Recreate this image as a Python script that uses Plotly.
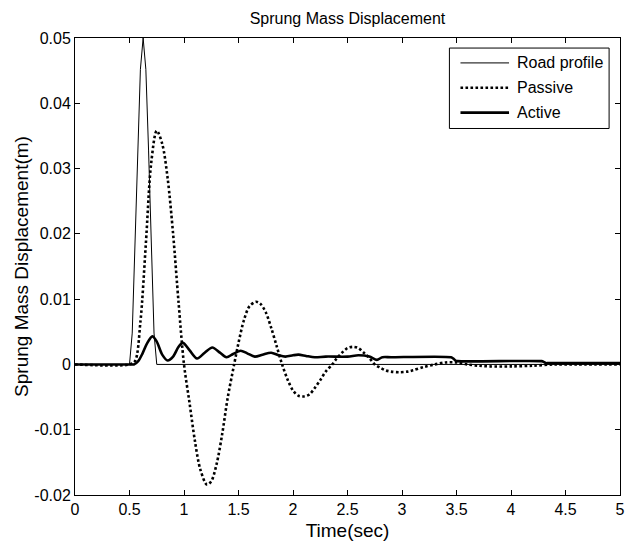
import plotly.graph_objects as go

# ---------------- data ----------------
road_t = [0, 0.5, 0.525, 0.55, 0.575, 0.6, 0.625, 0.65, 0.675, 0.7, 0.725, 0.75, 5.0]
road_y = [0, 0, 0.0048, 0.0173, 0.0327, 0.0452, 0.0500, 0.0452, 0.0327, 0.0173, 0.0048, 0, 0]

passive_t = [0, 0.5, 0.55, 0.6, 0.65, 0.7, 0.75, 0.8, 0.85, 0.9, 0.95,
             1.0, 1.05, 1.1, 1.15, 1.21, 1.25, 1.3, 1.35, 1.4, 1.46, 1.5, 1.55, 1.6, 1.66,
             1.7, 1.75, 1.8, 1.85, 1.9, 1.95, 2.0, 2.05, 2.1, 2.15, 2.2, 2.25, 2.3, 2.36,
             2.4, 2.45, 2.5, 2.55, 2.6, 2.65, 2.7, 2.75, 2.8, 2.85, 2.9, 2.98, 3.05, 3.1,
             3.2, 3.3, 3.4, 3.5, 3.6, 3.7, 3.8, 4.0, 4.2, 4.4, 4.6, 5.0]
passive_y = [0, 0, 0.0005, 0.0065, 0.0185, 0.0310, 0.0358, 0.0338, 0.0285, 0.0200, 0.0095,
             0.0, -0.0058, -0.0117, -0.0161, -0.0184, -0.0179, -0.0152, -0.0107, -0.0052, 0.0,
             0.0033, 0.0068, 0.0089, 0.0096,
             0.0093, 0.0080, 0.0056, 0.0028, 0.0, -0.0023, -0.0040, -0.0048, -0.0049, -0.0046,
             -0.0036, -0.0024, -0.0011, 0.0,
             0.0009, 0.0018, 0.0025, 0.0027, 0.0025, 0.0018, 0.0010, 0.0, -0.0005, -0.0009,
             -0.0011, -0.0012, -0.0011, -0.0009,
             -0.0004, 0.0, 0.0003, 0.0003, 0.0, -0.0002, -0.0003, -0.0003, -0.0002, 0.0, 0.0, 0.0]

active_t = [0, 0.5, 0.54, 0.58, 0.62, 0.66, 0.71, 0.75, 0.8, 0.85, 0.9, 0.95, 0.99, 1.05,
            1.12, 1.19, 1.26, 1.33, 1.39, 1.45, 1.52, 1.58, 1.65, 1.72, 1.8, 1.87, 1.93,
            2.0, 2.05, 2.12, 2.2, 2.3, 2.5, 2.6, 2.7, 2.77, 2.82, 2.9, 3.45, 3.47, 3.49,
            3.51, 4.28, 4.30, 4.32, 4.34, 5.0]
active_y = [0, 0, 0.0, 0.0005, 0.0017, 0.0032, 0.0043, 0.0035, 0.0015, 0.0006, 0.0012,
            0.0027, 0.0033, 0.0022,
            0.0009, 0.0018, 0.0026, 0.0018, 0.0011, 0.0016, 0.0021, 0.0017, 0.0012, 0.0015,
            0.0018, 0.0014, 0.0012,
            0.0014, 0.0015, 0.0013, 0.0011, 0.0012, 0.0012, 0.0014, 0.0012, 0.0007, 0.0011,
            0.0011, 0.0011, 0.0009, 0.0006,
            0.0005, 0.0005, 0.0004, 0.0002, 0.0002, 0.0002]

x_ticks = [0, 0.5, 1, 1.5, 2, 2.5, 3, 3.5, 4, 4.5, 5]
x_ticktext = ["0", "0.5", "1", "1.5", "2", "2.5", "3", "3.5", "4", "4.5", "5"]
y_ticks = [-0.02, -0.01, 0, 0.01, 0.02, 0.03, 0.04, 0.05]
y_ticktext = ["-0.02", "-0.01", "0", "0.01", "0.02", "0.03", "0.04", "0.05"]

series_names = ["Road profile", "Passive", "Active"]

FONT = "Liberation Sans, Arial, sans-serif"

fig = go.Figure()
fig.add_trace(go.Scatter(x=road_t, y=road_y, mode="lines", name=series_names[0],
                         line=dict(color="black", width=1)))
fig.add_trace(go.Scatter(x=passive_t, y=passive_y, mode="lines", name=series_names[1],
                         line=dict(color="black", width=2.6, dash="2.6px,2.4px",
                                   shape="spline", smoothing=0.9)))
fig.add_trace(go.Scatter(x=active_t, y=active_y, mode="lines", name=series_names[2],
                         line=dict(color="black", width=2.6, shape="spline", smoothing=0.8)))

# ---- custom legend (MATLAB style) ----
lx0, lx1, ly0, ly1 = 0.687, 0.98, 0.802, 0.978
rows = [0.9455, 0.891, 0.8366]
styles = [dict(width=1, dash="solid"), dict(width=2.6, dash="2.6px,2.4px"),
          dict(width=2.6, dash="solid")]
shapes = [dict(type="rect", xref="paper", yref="paper", x0=lx0, x1=lx1, y0=ly0, y1=ly1,
               line=dict(color="black", width=1), fillcolor="white", layer="above")]
annotations = []
for name, ry, st in zip(series_names, rows, styles):
    shapes.append(dict(type="line", xref="paper", yref="paper", x0=0.7073, x1=0.7964,
                       y0=ry, y1=ry, line=dict(color="black", **st), layer="above"))
    annotations.append(dict(xref="paper", yref="paper", x=0.8073, y=ry, text=name,
                            showarrow=False, xanchor="left", yanchor="middle",
                            font=dict(family=FONT, size=16, color="black")))

fig.update_layout(
    width=631, height=544,
    margin=dict(l=75, r=6, t=38, b=47),
    paper_bgcolor="white", plot_bgcolor="white",
    showlegend=False,
    font=dict(family=FONT, size=16, color="black"),
    title=dict(text="Sprung Mass Displacement", x=0.5, xref="paper", xanchor="center",
               y=1 - 18 / 544, yanchor="middle", font=dict(family=FONT, size=16, color="black")),
    shapes=shapes,
    annotations=annotations,
)
fig.update_xaxes(range=[0, 5], tickvals=x_ticks, ticktext=x_ticktext,
                 ticks="inside", ticklen=5, tickcolor="black", showline=True,
                 linecolor="black", linewidth=1, mirror="ticks", showgrid=False,
                 zeroline=False, title=dict(text="Time(sec)", standoff=6),
                 tickfont=dict(size=16), ticklabeloverflow="allow")
fig.update_yaxes(range=[-0.02, 0.05], tickvals=y_ticks, ticktext=y_ticktext,
                 ticks="inside", ticklen=5, tickcolor="black", showline=True,
                 linecolor="black", linewidth=1, mirror="ticks", showgrid=False,
                 zeroline=False, title=dict(text="Sprung Mass Displacement(m)", standoff=0),
                 tickfont=dict(size=16), ticklabeloverflow="allow")

fig.write_html("out.html", config={"displayModeBar": False},
               post_script="document.body.style.margin='0';document.body.style.overflow='hidden';")
